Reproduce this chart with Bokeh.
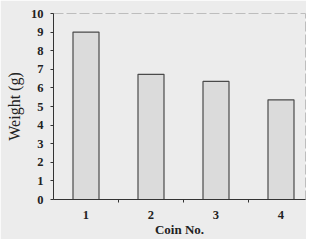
from bokeh.plotting import figure
from bokeh.models import FixedTicker, Range1d, ColumnDataSource
from bokeh.embed import file_html
from bokeh.resources import INLINE

coins = [1, 2, 3, 4]
weights = [9.0, 6.73, 6.35, 5.36]
coin_labels = {1: "1", 2: "2", 3: "3", 4: "4"}
y_ticks = list(range(0, 11))

BG = "#ececec"
FONT = "Liberation Serif"

p = figure(width=306, height=239, output_backend="svg", toolbar_location=None,
           x_range=Range1d(0.5, 4.377), y_range=Range1d(0, 10),
           min_border_left=53, min_border_right=1, min_border_top=13, min_border_bottom=40,
           background_fill_color=BG, border_fill_color=BG)

src = ColumnDataSource(dict(x=coins, top=weights))
p.vbar(x="x", top="top", width=0.4, bottom=0, source=src,
       fill_color="#dbdbdb", line_color="#4a4a4a", line_width=1.2)

p.xgrid.visible = False
p.ygrid.visible = False
p.outline_line_color = "#bdbdbd"
p.outline_line_width = 1
p.outline_line_dash = "10 3"

# x axis
p.xaxis.ticker = FixedTicker(ticks=coins, minor_ticks=[1.5, 2.5, 3.5])
p.xaxis.major_label_overrides = coin_labels
p.xaxis.major_tick_line_color = None
p.xaxis.minor_tick_out = 3
p.xaxis.minor_tick_in = 0
p.xaxis.minor_tick_line_color = "#333333"
p.xaxis.axis_line_color = "#333333"
p.xaxis.major_label_standoff = 5
p.xaxis.axis_label = "Coin No."
p.xaxis.axis_label_standoff = 0

# y axis
p.yaxis.ticker = FixedTicker(ticks=y_ticks)
p.yaxis.major_tick_out = 3
p.yaxis.major_tick_in = 0
p.yaxis.minor_tick_line_color = None
p.yaxis.major_tick_line_color = "#333333"
p.yaxis.axis_line_color = "#333333"
p.yaxis.major_label_standoff = 7
p.yaxis.axis_label = "Weight (g)"
p.yaxis.axis_label_standoff = 5

for ax in (p.xaxis, p.yaxis):
    ax.major_label_text_font = FONT
    ax.major_label_text_font_size = "12.5px"
    ax.major_label_text_font_style = "bold"
    ax.major_label_text_color = "#222222"
    ax.axis_label_text_font = FONT
    ax.axis_label_text_color = "#222222"

p.xaxis.axis_label_text_font_size = "13px"
p.xaxis.axis_label_text_font_style = "bold"
p.yaxis.axis_label_text_font_size = "16px"
p.yaxis.axis_label_text_font_style = "normal"

open("out.html", "w").write(file_html(p, INLINE))
